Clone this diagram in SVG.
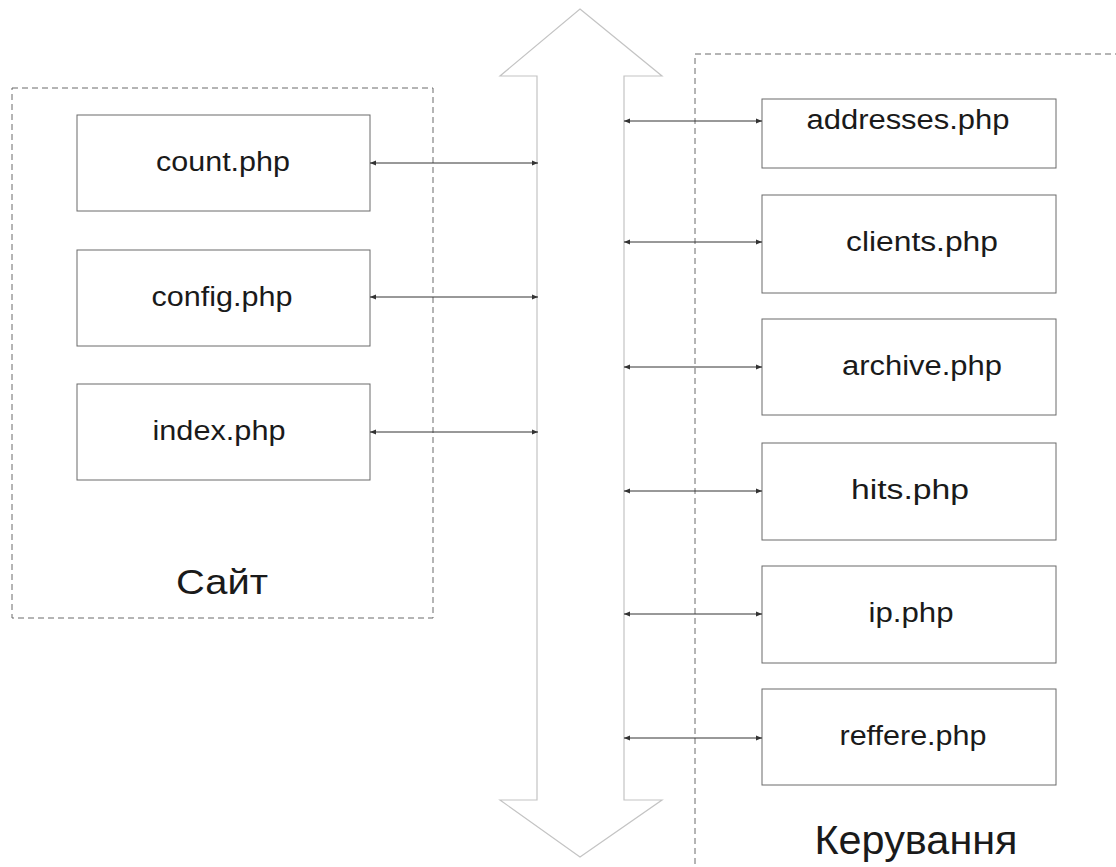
<svg xmlns="http://www.w3.org/2000/svg" width="1116" height="867" viewBox="0 0 1116 867">
<style>
.grp{fill:none;stroke:#6a6a6a;stroke-width:1;stroke-dasharray:6 4}
.box{fill:#fff;stroke:#6a6a6a;stroke-width:1}
.lbl{font-family:"Liberation Sans",Arial,sans-serif;font-size:27px;fill:#1a1a1a;text-anchor:middle}
.big{font-family:"Liberation Sans",Arial,sans-serif;fill:#1a1a1a;text-anchor:middle}
.con{stroke:#333;stroke-width:1;fill:none;marker-start:url(#ah);marker-end:url(#ah)}
</style>
<defs>
<marker id="ah" viewBox="0 0 10 10" refX="10" refY="5" markerWidth="6" markerHeight="6" orient="auto-start-reverse" markerUnits="userSpaceOnUse">
<path d="M0,1 L10,5 L0,9 Z" fill="#333"/>
</marker>
</defs>
<rect width="1116" height="867" fill="#fff"/>
<g id="bus">
<polygon points="580,9 662,76 624,76 624,800 662,800 580,857 500,800 537,800 537,76 500,76" fill="#fff" stroke="#c4c4c4" stroke-width="1.2"/>
</g>
<g id="site">
<rect class="grp" x="12" y="88" width="421" height="530"/>
<text class="big" x="222" y="594" font-size="35" textLength="92" lengthAdjust="spacingAndGlyphs">Сайт</text>
</g>
<g id="admin">
<rect class="grp" x="695" y="54" width="440" height="840"/>
<text class="big" x="916" y="854" font-size="40" textLength="203" lengthAdjust="spacingAndGlyphs">Керування</text>
</g>
<g id="count">
<rect class="box" x="77" y="115" width="293" height="96"/>
<text class="lbl" x="223" y="171" textLength="134" lengthAdjust="spacingAndGlyphs">count.php</text>
</g>
<g id="config">
<rect class="box" x="77" y="250" width="293" height="96"/>
<text class="lbl" x="222" y="306" textLength="141" lengthAdjust="spacingAndGlyphs">config.php</text>
</g>
<g id="index">
<rect class="box" x="77" y="384" width="293" height="96"/>
<text class="lbl" x="219" y="440" textLength="133" lengthAdjust="spacingAndGlyphs">index.php</text>
</g>
<g id="addresses">
<rect class="box" x="762" y="99" width="294" height="69"/>
<text class="lbl" x="908" y="129" textLength="203" lengthAdjust="spacingAndGlyphs">addresses.php</text>
</g>
<g id="clients">
<rect class="box" x="762" y="195" width="294" height="98"/>
<text class="lbl" x="922" y="251" textLength="152" lengthAdjust="spacingAndGlyphs">clients.php</text>
</g>
<g id="archive">
<rect class="box" x="762" y="319" width="294" height="96"/>
<text class="lbl" x="922" y="375" textLength="160" lengthAdjust="spacingAndGlyphs">archive.php</text>
</g>
<g id="hits">
<rect class="box" x="762" y="443" width="294" height="97"/>
<text class="lbl" x="910" y="499" textLength="118" lengthAdjust="spacingAndGlyphs">hits.php</text>
</g>
<g id="ip">
<rect class="box" x="762" y="566" width="294" height="97"/>
<text class="lbl" x="911" y="622" textLength="85" lengthAdjust="spacingAndGlyphs">ip.php</text>
</g>
<g id="reffere">
<rect class="box" x="762" y="689" width="294" height="96"/>
<text class="lbl" x="913" y="745" textLength="147" lengthAdjust="spacingAndGlyphs">reffere.php</text>
</g>
<g id="connectors">
<line class="con" x1="370" y1="163" x2="538" y2="163"/>
<line class="con" x1="370" y1="297" x2="538" y2="297"/>
<line class="con" x1="370" y1="432" x2="538" y2="432"/>
<line class="con" x1="624" y1="121" x2="762" y2="121"/>
<line class="con" x1="624" y1="242" x2="762" y2="242"/>
<line class="con" x1="624" y1="367" x2="762" y2="367"/>
<line class="con" x1="624" y1="491" x2="762" y2="491"/>
<line class="con" x1="624" y1="614" x2="762" y2="614"/>
<line class="con" x1="624" y1="738" x2="762" y2="738"/>
</g>
</svg>
